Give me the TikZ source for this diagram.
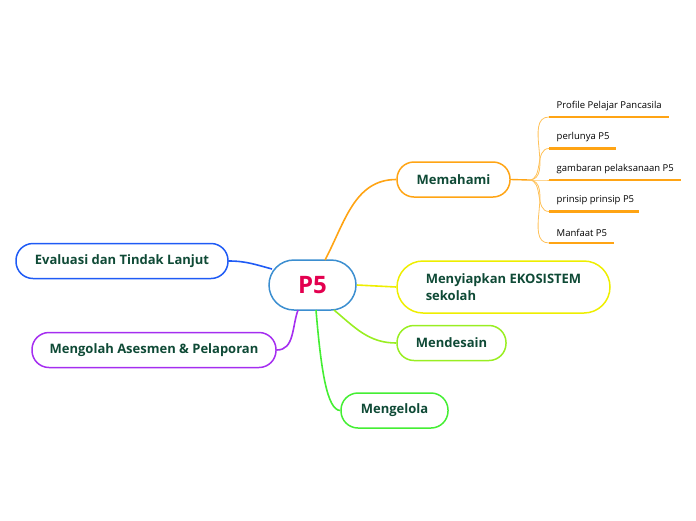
\documentclass[tikz,border=0pt]{standalone}
\usepackage{fontspec}
\setmainfont{Open Sans}
\definecolor{txtgreen}{HTML}{0F4A36}
\definecolor{ctrblue}{HTML}{3B8ED0}
\definecolor{ctrred}{HTML}{E3004F}
\definecolor{orangec}{HTML}{FFA414}
\definecolor{orangelt}{HTML}{FFC25A}
\definecolor{yellowc}{HTML}{EEEE00}
\definecolor{limec}{HTML}{99EE22}
\definecolor{greenc}{HTML}{44EE33}
\definecolor{bluec}{HTML}{1F5BF5}
\definecolor{purplec}{HTML}{A52EF0}
\begin{document}
\begin{tikzpicture}[x=1pt,y=-1pt,
    topic/.style={draw=#1,line width=1.5pt,rounded corners=17pt,minimum height=35pt,
      inner sep=0pt,font=\fontsize{13}{16}\selectfont\bfseries,text=txtgreen},
    link/.style={draw=#1,line width=1.6pt},
    subline/.style={draw=orangec,line width=2.4pt},
    sublabel/.style={anchor=south west,inner sep=0pt,font=\fontsize{9.5}{11}\selectfont,text=black}]
    \useasboundingbox (0,0) rectangle (696,520);
    % centre
    \node [draw=ctrblue,line width=1.5pt,rounded corners=25pt,minimum width=87pt,minimum height=50pt,
      inner sep=0pt,text=ctrred,font=\fontsize{24}{28}\selectfont\bfseries] (p5) at (312.5,285) {P5};
    % main topics
    \node [topic=orangec,minimum width=113pt] (memahami) at (453.5,179.5) {Memahami};
    \node [topic=yellowc,minimum width=213pt,minimum height=52pt,rounded corners=26pt,align=left,
      font=\fontsize{13}{17}\selectfont\bfseries] (ekosistem) at (503.5,287) {Menyiapkan EKOSISTEM\\sekolah};
    \node [topic=limec,minimum width=109pt] (mendesain) at (451.5,343) {Mendesain};
    \node [topic=greenc,minimum width=107pt] (mengelola) at (394.5,410.5) {Mengelola};
    \node [topic=bluec,minimum width=212pt] (evaluasi) at (122,261) {Evaluasi dan Tindak Lanjut};
    \node [topic=purplec,minimum width=244pt] (mengolah) at (154,350) {Mengolah Asesmen \& Pelaporan};
    % connectors
    \coordinate (p5top) at (325,260);
    \coordinate (p5bot) at (334,310);
    \coordinate (p5down) at (316,310);
    \coordinate (p5left) at (272,269);
    \coordinate (p5low) at (298,310);
    \draw [link=orangec] (p5top) to[out=62,in=180] (memahami.west);
    \draw [link=yellowc] (p5.east) -- (ekosistem.west);
    \draw [link=limec] (p5bot) to[out=-40,in=180] (mendesain.west);
    \draw [link=greenc] (p5down) .. controls (321,370) and (327,410) .. (mengelola.west);
    \draw [link=bluec] (evaluasi.east) to[out=0,in=165] (p5left);
    \draw [link=purplec] (mengolah.east) to[out=0,in=-110] (p5low);
    % subtopics of Memahami
    \coordinate (fork) at (529,180);
    \draw [draw=orangec,line width=1.4pt] (memahami.east) -- (fork);
    \foreach \name/\y/\xend/\txt in {profile/117/669/Profile Pelajar Pancasila,
        perlunya/148.5/615.5/perlunya P5,
        gambaran/180/681/gambaran pelaksanaan P5,
        prinsip/211.5/639/prinsip prinsip P5,
        manfaat/243/614/Manfaat P5} {
      \coordinate (\name a) at (549,\y);
      \coordinate (\name b) at (\xend,\y);
      \draw [draw=orangelt,line width=0.8pt] (fork) to[out=0,in=180] (\name a);
      \draw [subline] (\name a) -- (\name b);
      \node [sublabel] (\name) at (556.5,\y-6.5) {\txt};
    }
\end{tikzpicture}
\end{document}
